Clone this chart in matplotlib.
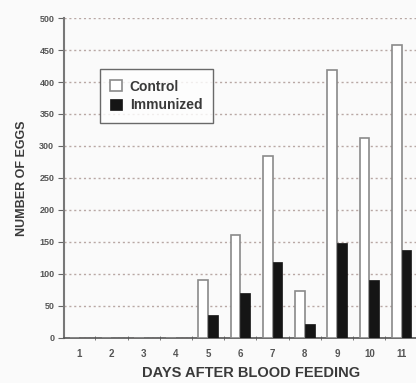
import matplotlib
matplotlib.use("Agg")
import matplotlib.pyplot as plt
import numpy as np

# data
days = [1, 2, 3, 4, 5, 6, 7, 8, 9, 10, 11]
control = [0, 0, 0, 0, 90, 161, 285, 73, 418, 313, 458]
immunized = [0, 0, 0, 0, 36, 71, 119, 22, 148, 91, 138]
y_ticks = [0, 50, 100, 150, 200, 250, 300, 350, 400, 450, 500]

plt.rcParams["font.family"] = ["Liberation Sans", "DejaVu Sans"]

TXT = "#3a3a3a"
BOLD = dict(fontweight="bold")

fig = plt.figure(figsize=(4.16, 3.83), dpi=100)
fig.patch.set_facecolor("#fafafa")
ax = fig.add_axes([0.154, 0.1175, 0.85, 0.8355])
ax.set_facecolor("#fafafa")

x = np.array(days)
w = 0.3
ax.bar(x - w / 2, control, w, color="white", edgecolor="#8a8a8a", linewidth=1.2,
       label="Control", zorder=3)
ax.bar(x + w / 2, immunized, w, color="#151515", edgecolor="#151515", linewidth=0.5,
       label="Immunized", zorder=3)

ax.set_xlim(0.53, 11.5)
ax.set_ylim(0, 500)
ax.set_yticks(y_ticks)
ax.set_yticklabels([str(v) for v in y_ticks], fontsize=6.5, color="#555555", **BOLD)
ax.set_xticks(days)
ax.set_xticklabels([str(d) for d in days], fontsize=7, color="#555555", **BOLD)
ax.set_xticks(np.arange(1.5, 11.5, 1), minor=True)
ax.tick_params(axis="x", which="major", length=0, pad=8)
ax.tick_params(axis="x", which="minor", length=3, direction="inout", color="#666666")
ax.tick_params(axis="y", length=4, color="#666666", pad=3)

ax.grid(axis="y", linestyle=(0, (1.5, 2)), color="#b8a8a4", linewidth=1.0, zorder=0)
ax.spines[["top", "right"]].set_visible(False)
ax.spines["left"].set_color("#777777")
ax.spines["left"].set_linewidth(1.5)
ax.spines["bottom"].set_color("#555555")
ax.spines["bottom"].set_linewidth(1.2)

ax.set_ylabel("NUMBER OF EGGS", fontsize=9, color=TXT, labelpad=8, **BOLD)
fig.text(251 / 416, 10 / 383, "DAYS AFTER BLOOD FEEDING", ha="center", va="center",
         fontsize=10.5, color=TXT, **BOLD)

leg = ax.legend(loc="upper left", bbox_to_anchor=(0.082, 0.862),
                prop=dict(size=10, weight="bold"),
                handlelength=0.8, handleheight=0.8, handletextpad=0.6,
                frameon=True, fancybox=False, borderpad=0.75, labelspacing=0.35)
leg.get_frame().set_edgecolor("#444444")
leg.get_frame().set_linewidth(1.0)
for t in leg.get_texts():
    t.set_color(TXT)

fig.savefig("out.png", dpi=100, facecolor=fig.get_facecolor())
